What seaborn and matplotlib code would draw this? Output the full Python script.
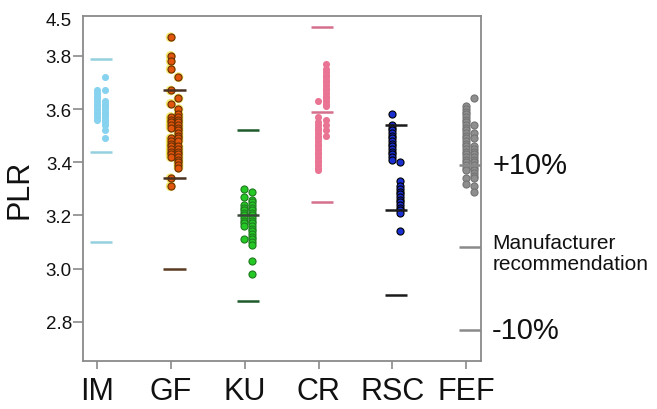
import numpy as np
import pandas as pd
import matplotlib
matplotlib.use("Agg")
import matplotlib.pyplot as plt
import matplotlib.transforms as mtransforms
import seaborn as sns

# ---------------- data ----------------
groups = ["IM", "GF", "KU", "CR", "RSC", "FEF"]

im_left = [3.67, 3.66, 3.65, 3.64, 3.63, 3.62, 3.61, 3.60, 3.59, 3.58, 3.57, 3.56]
im_right = [3.72, 3.67, 3.63, 3.62, 3.61, 3.60, 3.59, 3.58, 3.57, 3.56, 3.55, 3.54, 3.52, 3.49]

gf_left = [3.87, 3.80, 3.78, 3.75, 3.67, 3.62, 3.57, 3.56, 3.55, 3.54, 3.53,
           3.49, 3.48, 3.47, 3.46, 3.45, 3.44, 3.43, 3.42, 3.34, 3.31]
gf_right = [3.72, 3.64, 3.60, 3.58, 3.57, 3.56, 3.55, 3.54, 3.53, 3.52, 3.51, 3.50,
            3.49, 3.48, 3.46, 3.45, 3.44, 3.43, 3.42, 3.41, 3.40, 3.39, 3.38]

ku_left = [3.30, 3.27, 3.24, 3.23, 3.22, 3.21, 3.20, 3.19, 3.18, 3.17, 3.16, 3.11]
ku_right = [3.29, 3.26, 3.25, 3.24, 3.23, 3.22, 3.21, 3.20, 3.19, 3.18, 3.17, 3.16,
            3.15, 3.14, 3.13, 3.12, 3.11, 3.10, 3.09, 3.03, 2.98]

cr_left = [3.63, 3.57, 3.55, 3.54, 3.53, 3.52, 3.51, 3.50, 3.49, 3.48, 3.47, 3.46,
           3.45, 3.44, 3.43, 3.42, 3.41, 3.40, 3.39, 3.38, 3.37]
cr_right = [3.77, 3.75, 3.74, 3.73, 3.72, 3.71, 3.70, 3.69, 3.68, 3.67, 3.66, 3.65,
            3.64, 3.63, 3.62, 3.61, 3.56, 3.54, 3.52, 3.50]

rsc_left = [3.58, 3.54, 3.53, 3.52, 3.51, 3.50, 3.49, 3.48, 3.47, 3.46, 3.45,
            3.44, 3.43, 3.42, 3.41]
rsc_right = [3.40, 3.33, 3.31, 3.30, 3.29, 3.28, 3.27, 3.26, 3.25, 3.24, 3.23,
             3.22, 3.21, 3.14]

fef_left = [3.61, 3.60, 3.59, 3.58, 3.57, 3.56, 3.55, 3.54, 3.53, 3.52, 3.51, 3.50,
            3.49, 3.48, 3.47, 3.46, 3.45, 3.44, 3.43, 3.42, 3.41, 3.40, 3.39, 3.38,
            3.37, 3.34, 3.32]
fef_right = [3.64, 3.54, 3.51, 3.49, 3.46, 3.45, 3.44, 3.43, 3.42, 3.41, 3.40,
             3.39, 3.38, 3.37, 3.36, 3.35, 3.34, 3.31, 3.29]

# reference lines per group: +10 %, manufacturer recommendation, -10 %
upper_line = [3.79, 3.67, 3.52, 3.91, 3.54, 3.39]
rec_line = [3.44, 3.34, 3.20, 3.59, 3.22, 3.08]
lower_line = [3.10, 3.00, 2.88, 3.25, 2.90, 2.77]

y_ticks = [2.8, 3.0, 3.2, 3.4, 3.6, 3.8]
y_tick_labels = ["2.8", "3.0", "3.2", "3.4", "3.6", "3.8"]
top_label = "4.5"
right_labels = ["+10%", "Manufacturer\nrecommendation", "-10%"]

# ---------------- styles ----------------
dot_fill = ["#86d2ef", "#e2550c", "#25c925", "#ea7493", "#1a2fd0", "#8e8e8e"]
dot_edge = ["#86d2ef", "#6a3000", "#1f7a1f", "#ea7493", "#000000", "#737373"]
line_col = ["#94d0de", "#5a3a20", "#1f5a2a", "#d4708c", "#1a1a1a", "#8a8a8a"]
mid_col = ["#94d0de", "#4a3020", "#3a4a3a", "#d4708c", "#1a1a1a", "#8a8a8a"]

sns.set_style("white")
plt.rcParams["font.family"] = ["Liberation Sans", "DejaVu Sans"]

fig = plt.figure(figsize=(6.57, 4.10), dpi=100)
ax = fig.add_axes([83 / 657, 1 - 362 / 410, 398 / 657, 345 / 410])

left_cols = [im_left, gf_left, ku_left, cr_left, rsc_left, fef_left]
right_cols = [im_right, gf_right, ku_right, cr_right, rsc_right, fef_right]

shift = 0.05      # groups sit slightly right of their tick
col_off = 0.053   # half distance between the two dot columns
half_len = 0.15   # half length of the reference lines

for i, g in enumerate(groups):
    xs = [i + shift - col_off] * len(left_cols[i]) + [i + shift + col_off] * len(right_cols[i])
    ys = list(left_cols[i]) + list(right_cols[i])
    df = pd.DataFrame({"x": xs, "PLR": ys})
    if g == "GF":
        sns.scatterplot(data=df, x="x", y="PLR", ax=ax, s=50, color="#f2e24a",
                        edgecolor="none", alpha=0.8, zorder=2)
    lw = 0.0 if dot_edge[i] == dot_fill[i] else 0.8
    sns.scatterplot(data=df, x="x", y="PLR", ax=ax, s=26, color=dot_fill[i],
                    edgecolor=dot_edge[i], linewidth=lw, zorder=3)
    c = i + shift
    ax.hlines(upper_line[i], c - half_len, c + half_len,
              color=mid_col[i] if g in ("GF", "FEF") else line_col[i], lw=1.8, zorder=4)
    ax.hlines(rec_line[i], c - half_len, c + half_len,
              color=mid_col[i] if g in ("GF", "KU") else line_col[i], lw=1.8, zorder=4)
    ax.hlines(lower_line[i], c - half_len, c + half_len, color=line_col[i], lw=1.8, zorder=4)

ax.set_xlim(-0.19, 5.2)
ax.set_ylim(2.653, 3.95)
ax.set_xticks(range(len(groups)))
ax.set_xticklabels(groups)
ax.set_yticks(y_ticks)
ax.set_yticklabels(y_tick_labels)
ax.set_xlabel("")
ax.set_ylabel("PLR", fontsize=22, labelpad=8, color="#111111")

for sp in ax.spines.values():
    sp.set_visible(True)
    sp.set_color("#8a8a8a")
    sp.set_linewidth(1.3)

ax.tick_params(axis="y", direction="out", length=7, width=1.2, color="#8a8a8a",
               labelsize=13.5, pad=1, left=True, labelcolor="#111111")
ax.tick_params(axis="x", direction="out", length=6, width=1.2, color="#8a8a8a",
               labelsize=22, pad=5, bottom=True, labelcolor="#111111")

trans_y = mtransforms.blended_transform_factory(ax.transAxes, ax.transData)
ax.text(-0.028, 3.932, top_label, transform=trans_y, ha="right", va="center",
        fontsize=13.5, color="#111111")

ax.text(1.028, upper_line[5], right_labels[0], transform=trans_y, ha="left",
        va="center", fontsize=21, color="#111111")
ax.text(1.028, rec_line[5] - 0.02, right_labels[1], transform=trans_y, ha="left",
        va="center", fontsize=15, linespacing=1.15, color="#111111")
ax.text(1.028, lower_line[5], right_labels[2], transform=trans_y, ha="left",
        va="center", fontsize=21, color="#111111")

fig.savefig("out.png", dpi=100)
